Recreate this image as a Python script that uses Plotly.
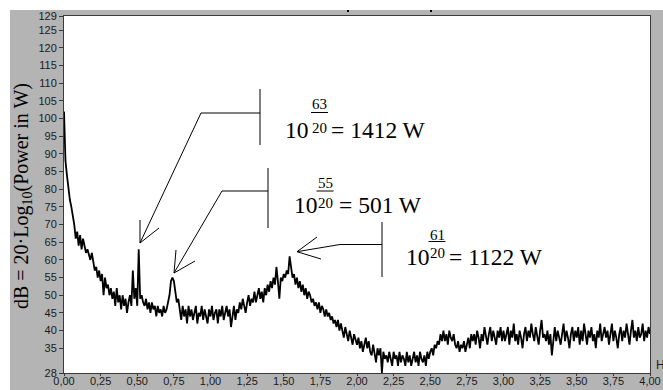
import plotly.graph_objects as go

# ---------------- data ----------------
freq_step = 0.01  # Hz between samples
db_values = [
    102, 88, 84, 80, 77, 75, 73, 70, 66, 68,
    64, 67, 63, 66, 64, 62, 63, 61, 60, 62,
    59, 57, 58, 55, 57, 54, 56, 50, 55, 52,
    53, 50, 52, 49, 51, 47, 52, 48, 50, 46,
    50, 47, 49, 45, 48, 50, 47, 57, 49, 52,
    47, 63, 49, 50, 48, 47, 49, 46, 48, 45,
    48, 46, 47, 44, 47, 45, 46, 44, 47, 45,
    46, 48, 50, 54, 55, 54, 51, 48, 49, 45,
    43, 47, 44, 46, 42, 47, 44, 46, 43, 45,
    47, 42, 45, 44, 47, 43, 46, 44, 42, 46,
    44, 47, 43, 45, 46, 42, 46, 44, 47, 43,
    45, 47, 44, 46, 41, 45, 47, 43, 46, 45,
    48, 46, 49, 47, 45, 48, 50, 47, 49, 48,
    51, 48, 50, 52, 49, 51, 48, 52, 50, 53,
    51, 54, 52, 55, 53, 58, 54, 49, 55, 54,
    56, 55, 57, 56, 61, 57, 55, 56, 53, 55,
    52, 54, 51, 53, 50, 52, 49, 51, 50, 48,
    49, 47, 48, 46, 48, 45, 47, 46, 44, 46,
    44, 45, 43, 44, 42, 43, 41, 43, 40, 42,
    40, 38, 41, 39, 37, 40, 38, 36, 39, 37,
    36, 38, 35, 37, 34, 36, 38, 35, 37, 34,
    33, 36, 34, 31, 35, 33, 35, 28, 34, 32,
    33, 31, 34, 32, 30, 34, 32, 33, 30, 34,
    31, 33, 32, 30, 34, 31, 33, 30, 32, 34,
    31, 33, 30, 34, 32, 31, 33, 30, 34, 32,
    34, 35, 33, 36, 35, 37, 36, 39, 37, 40,
    37, 39, 36, 40, 38, 37, 39, 36, 35, 37,
    34, 36, 35, 37, 34, 36, 38, 35, 39, 37,
    39, 36, 40, 38, 35, 39, 37, 41, 38, 36,
    39, 41, 37, 40, 38, 36, 40, 38, 41, 37,
    40, 37, 39, 41, 36, 40, 38, 42, 37, 39,
    36, 40, 38, 35, 39, 41, 37, 40, 38, 42,
    39, 37, 41, 38, 36, 40, 43, 38, 39, 37,
    40, 36, 39, 33, 38, 41, 37, 40, 38, 36,
    39, 42, 37, 40, 38, 35, 39, 41, 37, 40,
    38, 41, 36, 40, 37, 42, 39, 36, 40, 38,
    41, 37, 39, 35, 40, 38, 42, 37, 39, 41,
    38, 40, 36, 39, 42, 37, 40, 38, 35, 39,
    41, 37, 40, 38, 42, 39, 36, 40, 43, 38,
    40, 37, 41, 38, 39, 42, 37, 40, 38, 41,
    39,
]
freq = [round(i * freq_step, 2) for i in range(len(db_values))]

x_tickvals = [0.0, 0.25, 0.5, 0.75, 1.0, 1.25, 1.5, 1.75, 2.0, 2.25, 2.5, 2.75,
              3.0, 3.25, 3.5, 3.75, 4.0]
x_ticktext = ["0,00", "0,25", "0,50", "0,75", "1,00", "1,25", "1,50", "1,75",
              "2,00", "2,25", "2,50", "2,75", "3,00", "3,25", "3,50", "3,75", "4,00"]
y_tickvals = [28, 35, 40, 45, 50, 55, 60, 65, 70, 75, 80, 85, 90, 95, 100,
              105, 110, 115, 120, 125, 129]

peak_exponents = ["63", "55", "61"]
peak_watts = ["1412 W", "501 W", "1122 W"]

# ---------------- layout helpers ----------------
W, H = 663, 390
L, R, T, B = 64, 13, 16, 17
PW, PH = W - L - R, H - T - B


def px(x):
    return (x - L) / PW


def py(y):
    return (H - B - y) / PH


SERIF = "Liberation Serif, Times New Roman, serif"
SANS = "Liberation Sans, Arial, sans-serif"

fig = go.Figure()
fig.add_trace(go.Scatter(x=freq, y=db_values, mode="lines",
                         line=dict(color="black", width=1.8), hoverinfo="skip"))

shapes = []
annotations = []


def seg(p0, p1, color="black", width=1):
    shapes.append(dict(type="line", xref="paper", yref="paper",
                       x0=px(p0[0]), y0=py(p0[1]), x1=px(p1[0]), y1=py(p1[1]),
                       line=dict(color=color, width=width)))


def text(x, y, s, size, family=SERIF, xanchor="left", color="black"):
    annotations.append(dict(xref="paper", yref="paper", x=px(x), y=py(y),
                            text=s, showarrow=False, xanchor=xanchor,
                            yanchor="middle", borderpad=0,
                            font=dict(family=family, size=size, color=color)))


# white strips at top and left of the window
shapes.append(dict(type="rect", xref="paper", yref="paper", layer="above",
                   x0=px(-5), x1=px(670), y0=py(10), y1=py(-5),
                   fillcolor="white", line=dict(width=0)))
shapes.append(dict(type="rect", xref="paper", yref="paper", layer="above",
                   x0=px(-5), x1=px(10), y0=py(395), y1=py(-5),
                   fillcolor="white", line=dict(width=0)))
# tiny cursor marks in the top strip
seg((348, 10), (348, 12), width=2)
seg((431, 10), (431, 12), width=2)

# annotation callouts: (vertical bar, elbow, tip, barbs, text anchor)
callouts = [
    dict(vx=260, vy=(89, 145), elbow=[(260, 113), (201, 113)], tip=(140, 243),
         barbs=[(140, 220), (159, 228)], tx=284, ty=130, fx=319.5, num_dy=-26,
         bar_dy=-17.5, sup_dy=-2.5, eq_x=330),
    dict(vx=268, vy=(168, 228), elbow=[(268, 191), (222, 191)], tip=(174, 273),
         barbs=[(176, 250), (195, 261)], tx=293, ty=205, fx=325, num_dy=-22.5,
         bar_dy=-14, sup_dy=-2, eq_x=338),
    dict(vx=382, vy=(222, 277), elbow=[(382, 244.5), (340, 244.5)], tip=(297, 251.7),
         barbs=[(317, 237), (321, 259)], tx=405, ty=256.5, fx=437, num_dy=-22,
         bar_dy=-15, sup_dy=-3.5, eq_x=448),
]

for c, num, watts in zip(callouts, peak_exponents, peak_watts):
    seg((c["vx"], c["vy"][0]), (c["vx"], c["vy"][1]))
    seg(c["elbow"][0], c["elbow"][1])
    seg(c["elbow"][1], c["tip"])
    for b in c["barbs"]:
        seg(c["tip"], b)
    tx, ty, fx = c["tx"], c["ty"], c["fx"]
    text(tx, ty, "10", 23.5)
    text(fx, ty + c["num_dy"], num, 15, xanchor="center")
    text(fx, ty + c["sup_dy"], "20", 15, xanchor="center")
    seg((fx - 8.5, ty + c["bar_dy"]), (fx + 8.5, ty + c["bar_dy"]))
    text(c["eq_x"], ty, "= " + watts, 23.5)

# y-axis title
annotations.append(dict(xref="paper", yref="paper", x=px(22), y=py(196),
                        text="dB = 20·Log<sub>10</sub>(Power in W)", textangle=-90,
                        showarrow=False, xanchor="center", yanchor="middle",
                        font=dict(family=SERIF, size=20, color="black")))
# truncated x-axis unit
text(655, 365, "H", 12, family=SANS, color="#222222")

fig.update_layout(
    width=W, height=H,
    margin=dict(l=L, r=R, t=T, b=B, pad=0, autoexpand=False),
    paper_bgcolor="rgb(180,180,180)",
    plot_bgcolor="white",
    showlegend=False,
    shapes=shapes,
    annotations=annotations,
    xaxis=dict(range=[0, 4], tickvals=x_tickvals, ticktext=x_ticktext,
               automargin=False, showgrid=False, zeroline=False, showline=True,
               mirror=True, linecolor="#3a3a3a", linewidth=1, ticks="outside",
               ticklen=2, tickcolor="#3a3a3a", ticklabelstandoff=-4,
               tickfont=dict(family=SANS, size=11, color="#1a1a1a")),
    yaxis=dict(range=[28, 129], tickvals=y_tickvals, automargin=False,
               showgrid=False, zeroline=False, showline=True, mirror=True,
               linecolor="#3a3a3a", linewidth=1, ticks="outside", ticklen=4,
               tickcolor="#3a3a3a",
               tickfont=dict(family=SANS, size=11, color="#1a1a1a")),
)

fig.write_html("out.html")
